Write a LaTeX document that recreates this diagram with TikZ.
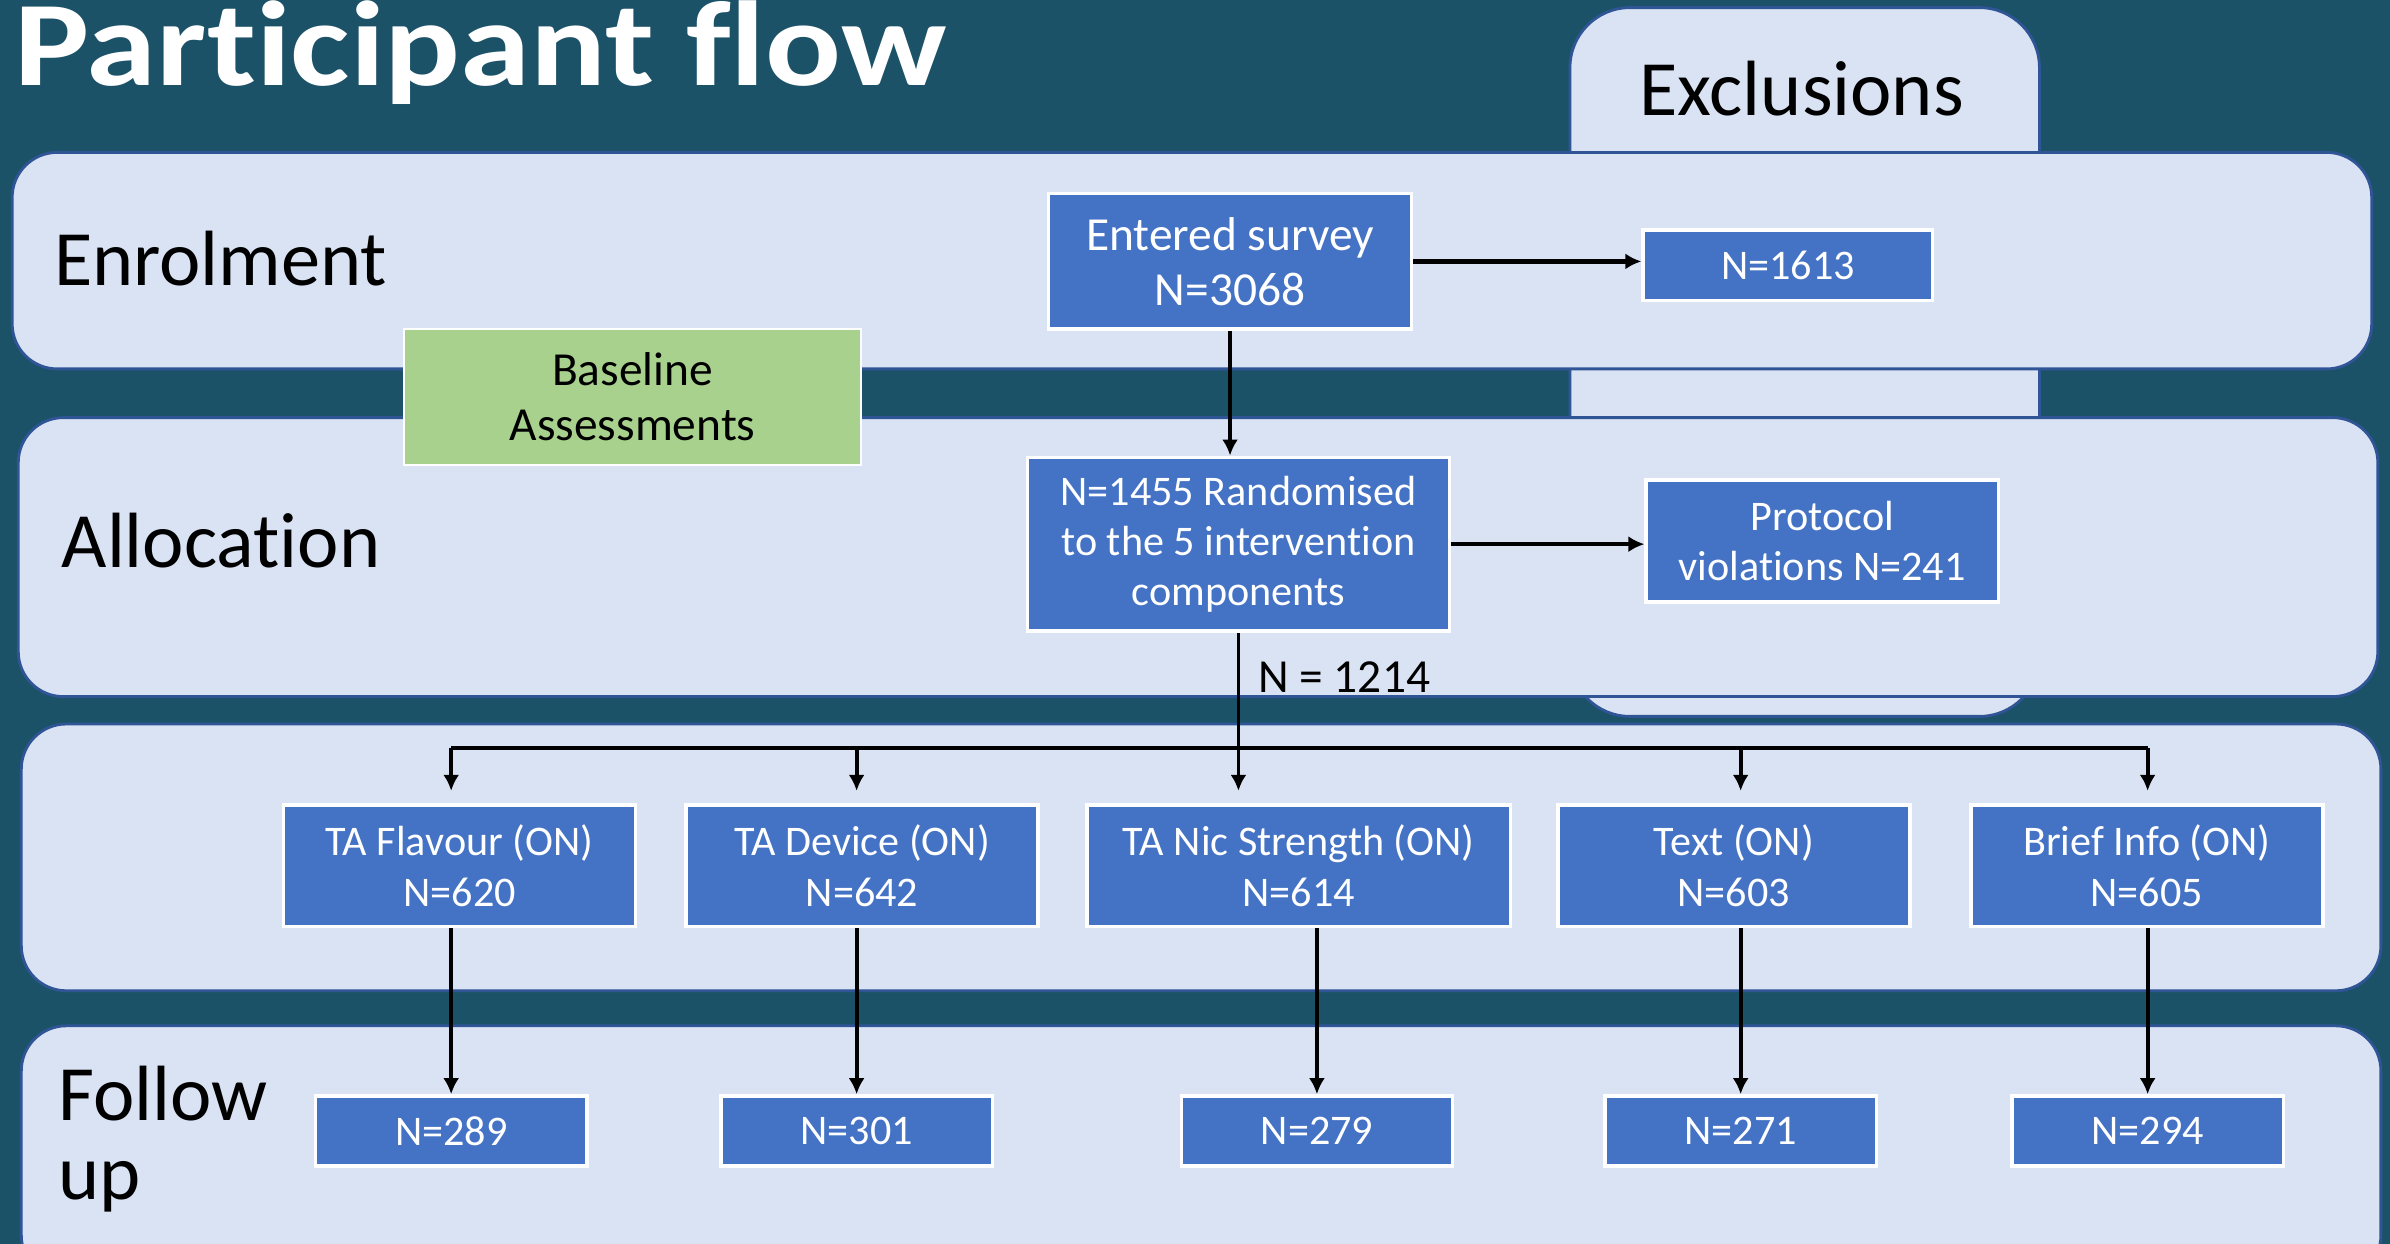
\documentclass[tikz,border=0pt]{standalone}
\usepackage{fontspec}
\setmainfont{Carlito}[Ligatures=NoCommon]
\newfontfamily\titlefont{Carlito}[Ligatures=NoCommon, FakeStretch=1.17]
\usetikzlibrary{arrows.meta}

\newlength{\pxu}
\setlength{\pxu}{0.015242cm}

\definecolor{bgteal}{RGB}{28,82,104}
\definecolor{bandfill}{RGB}{218,227,243}
\definecolor{bandline}{RGB}{47,85,151}
\definecolor{boxblue}{RGB}{68,114,196}
\definecolor{boxgreen}{RGB}{169,209,142}

\begin{document}
\begin{tikzpicture}[x=0.015242cm, y=-0.015242cm,
    band/.style={fill=bandfill, draw=bandline, line width=0.8pt, rounded corners=0.45cm},
    stage/.style={anchor=base west, inner sep=0pt, align=left, font=\fontsize{22.3}{22.6}\selectfont},
    bigtext/.style={font=\fontsize{13.5}{15.6}\selectfont},
    flow/.style={draw, line width=1.1pt, -{Latex[length=0.16cm,width=0.16cm]}},
    wide/.style={line width=1.3pt}]

        % page and background panels
        \useasboundingbox (0,0) rectangle (1568,816);
        \fill[bgteal] (0,0) rectangle (1568,816);
        \draw[band, rounded corners=0.6cm] (1030,5) rectangle (1338,470);
        \draw[band] (8,100) rectangle (1556,242);
        \draw[band] (12,274) rectangle (1560,457);
        \draw[band] (14,475) rectangle (1562,650);
        \draw[band] (14,673) rectangle (1562,840);

        \node[anchor=base west, inner sep=0pt, text=white, font=\titlefont\bfseries\fontsize{34.4}{36}\selectfont] (title) at (9,56) {Participant flow};
        \node[anchor=base, inner sep=0pt, font=\fontsize{22.3}{23.4}\selectfont] (exclhead) at (1182,75.5) {Exclusions};

        \begin{scope}[every node/.style={stage}]
          \node (enrol) at (35,187) {Enrolment};
          \node (alloc) at (40,372.5) {Allocation};
          \node (follow) at (38,787) {Follow\\up};
        \end{scope}

        \node[fill=boxgreen, draw=white, line width=0.6pt, align=center, inner sep=0pt, bigtext,
              minimum width=300\pxu, minimum height=89\pxu] (base) at (415,260.5) {Baseline\\Assessments};

        \begin{scope}[every node/.style={fill=boxblue, draw=white, line width=1pt, text=white, align=center,
                      inner sep=0pt, font=\fontsize{12}{14.3}\selectfont}]
          \node[bigtext, minimum width=238\pxu, minimum height=89\pxu] (entry) at (807,171.5) {Entered survey\\N=3068};
          \node[minimum width=190\pxu, minimum height=46\pxu] (excl) at (1173,174) {N=1613};
          \node[minimum width=277\pxu, minimum height=114\pxu] (rand) at (812.5,357) {N=1455 Randomised\\to the 5 intervention\\components};
          \node[minimum width=231\pxu, minimum height=80\pxu] (prot) at (1195.5,355) {Protocol\\violations N=241};

          \node[minimum width=231\pxu, minimum height=80\pxu] (a1) at (301.5,568) {TA Flavour (ON)\\N=620};
          \node[minimum width=231\pxu, minimum height=80\pxu] (a2) at (565.5,568) {TA Device (ON)\\N=642};
          \node[minimum width=278\pxu, minimum height=80\pxu] (a3) at (852,568) {TA Nic Strength (ON)\\N=614};
          \node[minimum width=231\pxu, minimum height=80\pxu] (a4) at (1137.5,568) {Text (ON)\\N=603};
          \node[minimum width=231\pxu, minimum height=80\pxu] (a5) at (1408.5,568) {Brief Info (ON)\\N=605};

          \node[minimum width=178\pxu, minimum height=46\pxu] (f1) at (296,742) {N=289};
          \node[minimum width=178\pxu, minimum height=46\pxu] (f2) at (562,742) {N=301};
          \node[minimum width=178\pxu, minimum height=46\pxu] (f3) at (864,742) {N=279};
          \node[minimum width=178\pxu, minimum height=46\pxu] (f4) at (1142,742) {N=271};
          \node[minimum width=178\pxu, minimum height=46\pxu] (f5) at (1409,742) {N=294};
        \end{scope}

        \node[anchor=base west, inner sep=0pt, bigtext] (n1214) at (825,454) {N = 1214};

        \coordinate (bus) at (0,491);

        \begin{scope}[every edge/.style={flow}]
          \path (entry.east) edge[wide] (entry.east -| excl.west);
          \path (rand.east)  edge[wide] (rand.east -| prot.west);
          \path (entry.south) edge (entry.south |- rand.north);
          \path (rand.south) edge[shorten >=8\pxu] (rand.south |- a3.north);

          \draw[line width=1.1pt] (f1.north |- bus) -- (f5.north |- bus);
          \path (f1.north |- bus) edge[shorten >=8\pxu] (f1.north |- a1.north);
          \path (f2.north |- bus) edge[shorten >=8\pxu] (f2.north |- a2.north);
          \path (f4.north |- bus) edge[shorten >=8\pxu] (f4.north |- a4.north);
          \path (f5.north |- bus) edge[shorten >=8\pxu] (f5.north |- a5.north);

          \path (f1.north |- a1.south) edge (f1.north);
          \path (f2.north |- a2.south) edge (f2.north);
          \path (f3.north |- a3.south) edge (f3.north);
          \path (f4.north |- a4.south) edge (f4.north);
          \path (f5.north |- a5.south) edge (f5.north);
        \end{scope}

      \end{tikzpicture}
\end{document}
